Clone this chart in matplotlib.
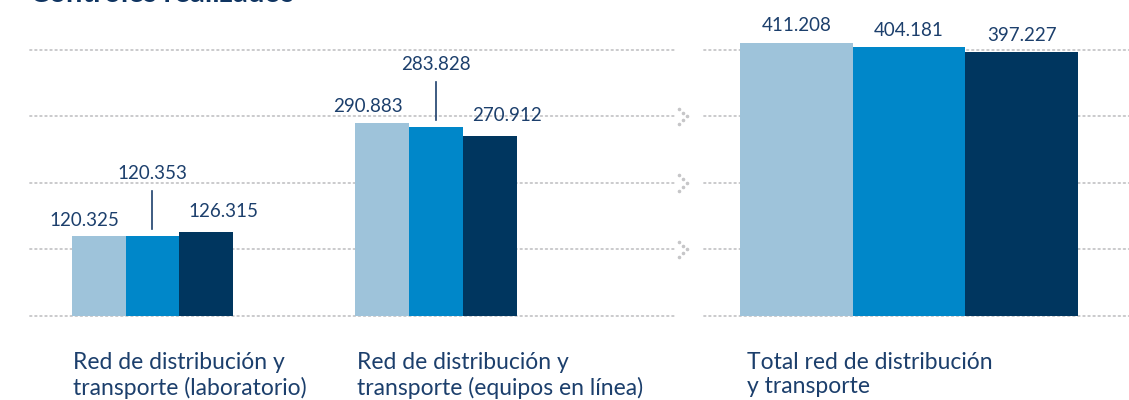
import matplotlib.pyplot as plt
from matplotlib.transforms import blended_transform_factory

plt.rcParams['font.family'] = ['Lato', 'DejaVu Sans']

# Controles realizados (three periods per category)
categories = ['Red de distribución y\ntransporte (laboratorio)',
              'Red de distribución y\ntransporte (equipos en línea)']
serie_1 = [120325, 290883]
serie_2 = [120353, 283828]
serie_3 = [126315, 270912]

total_category = 'Total red de distribución\ny transporte'
total_values = [411208, 404181, 397227]

colors = ['#9ec3da', '#0087c9', '#00365f']
navy = '#1c3f6c'
grid_color = '#c6c6c8'


def fmt(v):
    return f'{v:,}'.replace(',', '.')


def dotted_grid(ax, xmax):
    for g in [0, 100000, 200000, 300000, 400000]:
        ax.plot([0, xmax], [g, g], transform=blended_transform_factory(ax.transAxes, ax.transData),
                color=grid_color, lw=1.3, ls=(0, (0.9, 1.9)), dash_capstyle='round',
                clip_on=False, zorder=0)


W, H = 1129, 400
fig = plt.figure(figsize=(W / 100, H / 100), dpi=100)

# left panel: two categories
ax1 = fig.add_axes([30 / W, 70 / H, 658 / W, 310 / H])
ax1.set_xlim(-0.432, 1.889)
ax1.set_ylim(-21050, 445100)
ax1.axis('off')
dotted_grid(ax1, 0.982)

w = 0.19
x = [0, 1]
for i, vals in enumerate([serie_1, serie_2, serie_3]):
    ax1.bar([p + (i - 1) * w for p in x], vals, width=w, color=colors[i], zorder=2)

for p, v1, v2, v3 in zip(x, serie_1, serie_2, serie_3):
    ax1.text(p - w - 0.05, v1 + 24000, fmt(v1), ha='center', va='center', fontsize=13.5, color=navy)
    ax1.plot([p, p], [v2 + 11000, v2 + 68000], color=navy, lw=1.2)
    ax1.text(p, v2 + 94000, fmt(v2), ha='center', va='center', fontsize=13.5, color=navy)
    ax1.text(p + w + 0.06, v3 + 31000, fmt(v3), ha='center', va='center', fontsize=13.5, color=navy)

# dotted chevrons where the scale changes
tr = blended_transform_factory(ax1.transAxes, ax1.transData)
for g in [100000, 200000, 300000]:
    ax1.scatter([0.987, 0.993, 0.999, 0.993, 0.987],
                [g + 12000, g + 6000, g, g - 6000, g - 12000],
                transform=tr, s=2.5, color=grid_color, clip_on=False, zorder=0)

# right panel: total
ax2 = fig.add_axes([704 / W, 70 / H, 425 / W, 310 / H])
ax2.set_xlim(-0.723, 0.776)
ax2.set_ylim(-21050, 445100)
ax2.axis('off')
dotted_grid(ax2, 1.0)

w2 = 0.397
for i, v in enumerate(total_values):
    ax2.bar((i - 1) * w2, v, width=w2, color=colors[i], zorder=2)
    ax2.text((i - 1) * w2, v + 25000, fmt(v), ha='center', va='center', fontsize=13.5, color=navy)

# category labels
for xp, label in zip([73, 357, 747], categories + [total_category]):
    fig.text(xp / W, 1 - 352 / H, label, ha='left', va='top', fontsize=16.5,
             color=navy, linespacing=1.2)

fig.text(30 / W, 1 - 1.5 / H, 'Controles realizados', ha='left', va='baseline',
         fontsize=21, fontweight='bold', color='#0f3461')

fig.savefig('out.png', dpi=100)
